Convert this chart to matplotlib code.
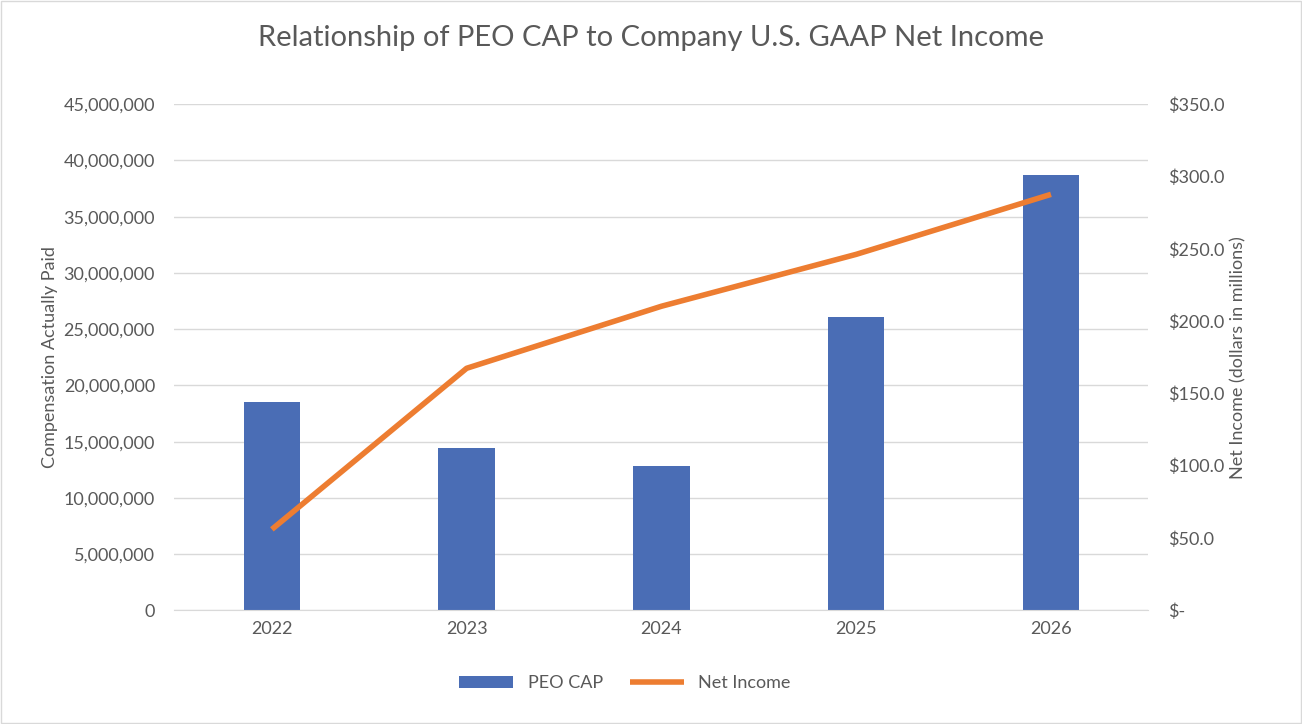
import matplotlib.pyplot as plt
from matplotlib.ticker import FuncFormatter

plt.rcParams['font.family'] = ['Lato', 'DejaVu Sans']

years = ['2022', '2023', '2024', '2025', '2026']
peo_cap = [18500000, 14400000, 12800000, 26100000, 38700000]
net_income = [56.0, 167.4, 210.3, 246.2, 287.7]

grey = '#595959'
bar_color = '#4a6db5'
line_color = '#ed7d31'

fig = plt.figure(figsize=(13.02, 7.24), dpi=100)
ax = fig.add_axes([0.134, 0.157, 0.748, 0.699])
x = range(len(years))
ax.bar(x, peo_cap, width=0.29, color=bar_color, label='PEO CAP', zorder=2)
ax.set_ylim(0, 45000000)
ax.set_yticks(range(0, 45000001, 5000000))
ax.yaxis.set_major_formatter(FuncFormatter(lambda v, p: f'{int(v):,}'))
ax.set_xlim(-0.5, 4.5)
ax.set_xticks(list(x))
ax.set_xticklabels(years)
ax.grid(axis='y', color='#d9d9d9', linewidth=1, zorder=0)
ax.set_ylabel('Compensation Actually Paid', color=grey, fontsize=13)

ax2 = ax.twinx()
ax2.plot(x, net_income, color=line_color, linewidth=4, label='Net Income', solid_capstyle='butt')
ax2.set_ylim(0, 350)
ax2.set_yticks(range(0, 351, 50))
ax2.yaxis.set_major_formatter(FuncFormatter(lambda v, p: '$-' if v == 0 else f'${v:.1f}'))
ax2.set_ylabel('Net Income (dollars in millions)', color=grey, fontsize=13)

for a in (ax, ax2):
    for s in a.spines.values():
        s.set_visible(False)
    a.tick_params(length=0, colors=grey, labelsize=13)
ax.spines['bottom'].set_visible(True)
ax.spines['bottom'].set_color('#d9d9d9')
ax.tick_params(axis='x', pad=8)
ax.tick_params(axis='y', pad=14)
ax2.tick_params(axis='y', pad=14)

fig.suptitle('Relationship of PEO CAP to Company U.S. GAAP Net Income', color=grey, fontsize=21, y=0.965)

h1, l1 = ax.get_legend_handles_labels()
h2, l2 = ax2.get_legend_handles_labels()
fig.legend(h1 + h2, l1 + l2, loc='center', bbox_to_anchor=(0.48, 0.056), ncol=2, frameon=False,
           fontsize=13, labelcolor=grey, handlelength=3, columnspacing=1.5)

fig.patches.append(plt.Rectangle((0.001, 0.001), 0.998, 0.998, transform=fig.transFigure,
                                 fill=False, edgecolor='#d9d9d9', linewidth=1))
fig.savefig('out.png', dpi=100)
